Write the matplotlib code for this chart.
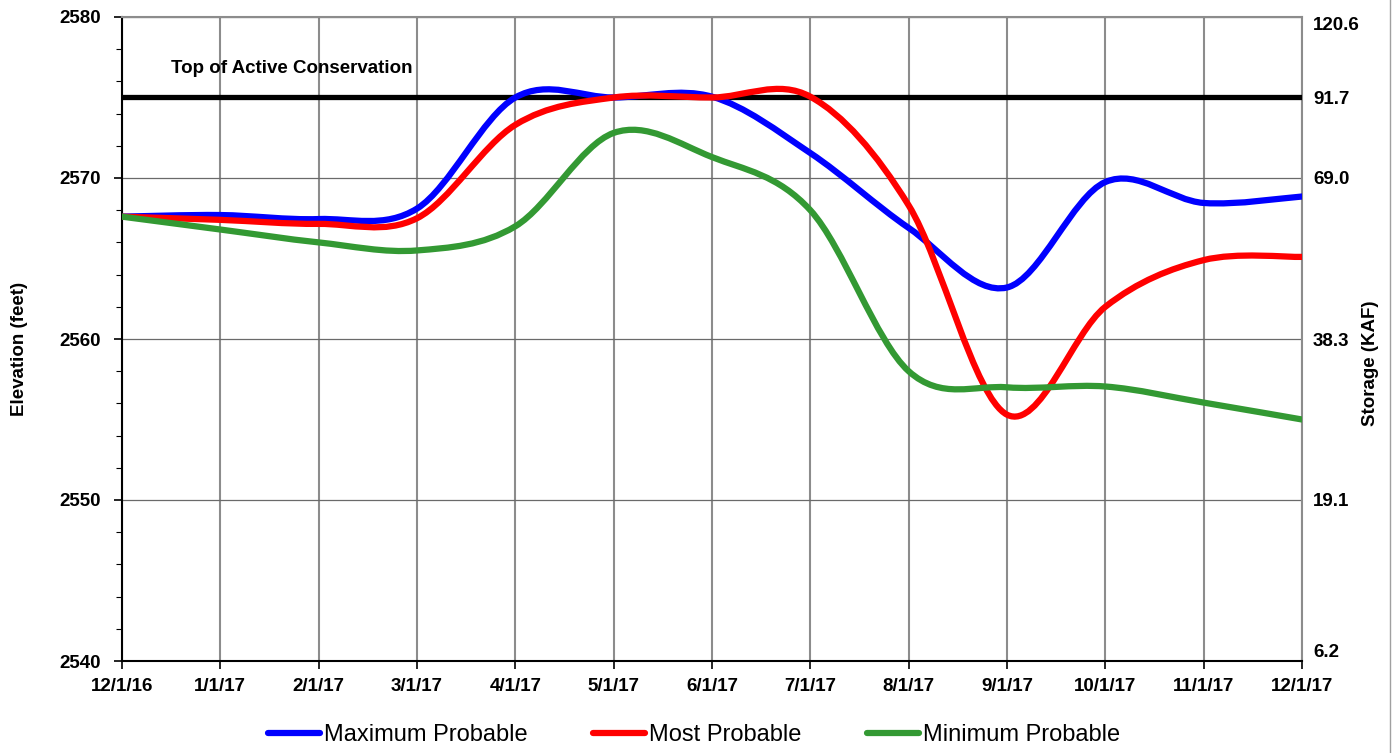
import matplotlib
matplotlib.use('Agg')
import matplotlib.pyplot as plt
from matplotlib.path import Path
from matplotlib.patches import PathPatch
from matplotlib.lines import Line2D

plt.rcParams['font.family'] = ['Liberation Sans', 'DejaVu Sans']

dates = ['12/1/16', '1/1/17', '2/1/17', '3/1/17', '4/1/17', '5/1/17', '6/1/17',
         '7/1/17', '8/1/17', '9/1/17', '10/1/17', '11/1/17', '12/1/17']
max_prob = [2567.6, 2567.7, 2567.45, 2568.1, 2575.0, 2575.0, 2575.05,
            2571.55, 2566.9, 2563.2, 2569.75, 2568.45, 2568.85]
most_prob = [2567.6, 2567.4, 2567.15, 2567.5, 2573.3, 2575.0, 2575.0,
             2575.05, 2568.3, 2555.3, 2562.0, 2564.9, 2565.1]
min_prob = [2567.6, 2566.8, 2566.0, 2565.5, 2567.0, 2572.8, 2571.3,
            2568.0, 2558.0, 2557.0, 2557.05, 2556.05, 2555.0]
top_conservation = 2575.0
elev_ticks = [2540, 2550, 2560, 2570, 2575, 2580]
storage_labels = ['6.2', '19.1', '38.3', '69.0', '91.7', '120.6']


def smooth_path(x, y):
    # Excel-style smoothed line: cubic Bezier through each point
    n = len(x)
    verts = [(x[0], y[0])]
    codes = [Path.MOVETO]
    for i in range(n - 1):
        a = max(i - 1, 0)
        b = min(i + 2, n - 1)
        c1 = (x[i] + (x[i + 1] - x[a]) / 6, y[i] + (y[i + 1] - y[a]) / 6)
        c2 = (x[i + 1] - (x[b] - x[i]) / 6, y[i + 1] - (y[b] - y[i]) / 6)
        verts += [c1, c2, (x[i + 1], y[i + 1])]
        codes += [Path.CURVE4] * 3
    return Path(verts, codes)


fig = plt.figure(figsize=(13.95, 7.53), dpi=100)
ax = fig.add_axes([122 / 1395, 1 - 661 / 753, 1180 / 1395, 644 / 753])

xs = list(range(len(dates)))
ax.set_xlim(0, len(dates) - 1)
ax.set_ylim(2540, 2580)

# grid
ax.set_xticks(xs)
ax.set_xticklabels(dates, fontsize=13.5, fontweight='bold')
ax.set_yticks([2540, 2550, 2560, 2570, 2580])
ax.set_yticks(range(2540, 2581, 2), minor=True)
ax.set_yticklabels(['2540', '2550', '2560', '2570', '2580'], fontsize=13.5, fontweight='bold')
ax.grid(axis='x', color='#8c8c8c', lw=1.5)
ax.grid(axis='y', which='major', color='#6a6a6a', lw=0.9)
ax.tick_params(axis='y', which='major', length=6, width=1.2, pad=9)
ax.tick_params(axis='y', which='minor', length=4, width=0.8)
ax.tick_params(axis='x', length=6, width=1.2, pad=6)
for s in ['left', 'bottom']:
    ax.spines[s].set_color('black')
    ax.spines[s].set_linewidth(1.5)
for s in ['top', 'right']:
    ax.spines[s].set_color('#8c8c8c')
    ax.spines[s].set_linewidth(1.5)

ax.axhline(top_conservation, color='black', lw=3.8, zorder=3)
ax.text(0.5, 2576.8, 'Top of Active Conservation', fontsize=13.5,
        fontweight='bold', ha='left', va='center')

series = [(max_prob, '#0000ff', 'Maximum Probable'),
          (most_prob, '#ff0000', 'Most Probable'),
          (min_prob, '#339933', 'Minimum Probable')]
handles = []
for i, (vals, col, lab) in enumerate(series):
    ax.add_patch(PathPatch(smooth_path(xs, vals), fill=False, ec=col, lw=4.5,
                           capstyle='round', joinstyle='round', zorder=4 + i))
    handles.append(Line2D([], [], color=col, lw=4.5, solid_capstyle='round', label=lab))

ax.set_ylabel('Elevation (feet)', fontsize=13.5, fontweight='bold')
ax.yaxis.set_label_coords(-0.0797, 0.4845)

ax2 = ax.twinx()
ax2.set_ylim(2540, 2580)
ax2.set_yticks(elev_ticks)
ax2.set_yticklabels(storage_labels, fontsize=13.5, fontweight='bold')
ax2.tick_params(axis='y', length=0, pad=8)
tl = ax2.get_yticklabels()
tl[0].set_va('bottom')
tl[-1].set_va('top')
for s in ax2.spines.values():
    s.set_visible(False)
ax2.set_ylabel('Storage (KAF)', fontsize=13.5, fontweight='bold')
ax2.yaxis.set_label_coords(1.0508, 0.4627)

fig.legend(handles=handles, loc='center', bbox_to_anchor=(0.4975, 0.024), ncol=3,
           frameon=False, fontsize=17, handlelength=2.2, handletextpad=0.15,
           columnspacing=2.8)

fig.add_artist(Line2D([1390 / 1395, 1390 / 1395], [0, 1], color='#a0a0a0', lw=1,
                      transform=fig.transFigure))

fig.savefig('out.png', dpi=100)
